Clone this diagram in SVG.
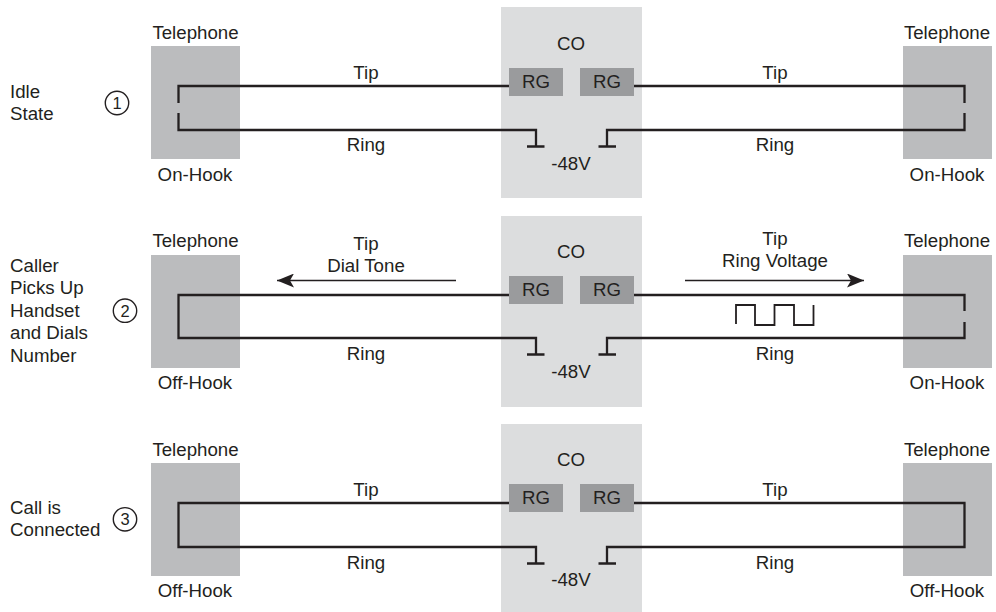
<svg xmlns="http://www.w3.org/2000/svg" width="996" height="612" viewBox="0 0 996 612">
<style>
text{font-family:"Liberation Sans",Arial,sans-serif;font-size:18.7px;fill:#231f20}
.m{text-anchor:middle}
.d{font-size:16.5px}
.tel{fill:#bbbcbe}
.co{fill:#dcddde}
.rg{fill:#9a9b9d}
.w{fill:none;stroke:#231f20;stroke-width:2.3}
.t{fill:none;stroke:#231f20;stroke-width:1.4}
</style>
<defs>
<marker id="arr" markerUnits="userSpaceOnUse" markerWidth="18" markerHeight="14" refX="17" refY="7" orient="auto-start-reverse"><path d="M0 0L17 7L0 14L4 7Z" fill="#231f20"/></marker>
</defs>
<rect width="996" height="612" fill="#fff"/>
<g id="row1">
<g id="co1"><rect class="co" x="501" y="7" width="141" height="191"/><text class="m" x="571" y="50">CO</text><text class="m" x="571" y="170">-48V</text></g>
<g id="tel1l"><rect class="tel" x="151" y="46" width="89" height="113"/><text class="m" x="195.500" y="38.500">Telephone</text><text class="m" x="195" y="181">On-Hook</text></g>
<g id="tel1r"><rect class="tel" x="903" y="46" width="89" height="113"/><text class="m" x="947" y="38.500">Telephone</text><text class="m" x="947" y="181">On-Hook</text></g>
<g id="rg1a"><rect class="rg" x="509" y="68" width="54" height="28"/><text class="m" x="536" y="88">RG</text></g>
<g id="rg1b"><rect class="rg" x="580" y="68" width="54" height="28"/><text class="m" x="607" y="88">RG</text></g>
<g id="state1"><text x="10" y="98">Idle</text><text x="10" y="120">State</text><circle class="t" cx="117" cy="103" r="11.700"/><text class="m d" x="117" y="108.800">1</text></g>
<text class="m" x="366" y="79">Tip</text><text class="m" x="366" y="151">Ring</text>
<text class="m" x="775" y="79">Tip</text><text class="m" x="775" y="151">Ring</text>
</g>
<g id="row2">
<g id="co2"><rect class="co" x="501" y="216" width="141" height="191"/><text class="m" x="571" y="258">CO</text><text class="m" x="571" y="378">-48V</text></g>
<g id="tel2l"><rect class="tel" x="151" y="255" width="89" height="113"/><text class="m" x="195.500" y="246.700">Telephone</text><text class="m" x="195" y="389">Off-Hook</text></g>
<g id="tel2r"><rect class="tel" x="903" y="255" width="89" height="113"/><text class="m" x="947" y="246.700">Telephone</text><text class="m" x="947" y="389">On-Hook</text></g>
<g id="rg2a"><rect class="rg" x="509" y="276" width="54" height="28"/><text class="m" x="536" y="296">RG</text></g>
<g id="rg2b"><rect class="rg" x="580" y="276" width="54" height="28"/><text class="m" x="607" y="296">RG</text></g>
<g id="state2"><text x="10" y="271.700">Caller</text><text x="10" y="294">Picks Up</text><text x="10" y="316.700">Handset</text><text x="10" y="339">and Dials</text><text x="10" y="362">Number</text><circle class="t" cx="125" cy="310.700" r="11.700"/><text class="m d" x="125" y="316.500">2</text></g>
<text class="m" x="366" y="250">Tip</text><text class="m" x="366" y="271.700">Dial Tone</text><text class="m" x="366" y="360">Ring</text>
<text class="m" x="775" y="245">Tip</text><text class="m" x="775" y="266.700">Ring Voltage</text><text class="m" x="775" y="360">Ring</text>
</g>
<g id="row3">
<g id="co3"><rect class="co" x="501" y="424" width="141" height="188"/><text class="m" x="571" y="466">CO</text><text class="m" x="571" y="586">-48V</text></g>
<g id="tel3l"><rect class="tel" x="151" y="463" width="89" height="113"/><text class="m" x="195.500" y="455.700">Telephone</text><text class="m" x="195" y="597">Off-Hook</text></g>
<g id="tel3r"><rect class="tel" x="903" y="463" width="89" height="113"/><text class="m" x="947" y="455.700">Telephone</text><text class="m" x="947" y="597">Off-Hook</text></g>
<g id="rg3a"><rect class="rg" x="509" y="484" width="54" height="28"/><text class="m" x="536" y="504">RG</text></g>
<g id="rg3b"><rect class="rg" x="580" y="484" width="54" height="28"/><text class="m" x="607" y="504">RG</text></g>
<g id="state3"><text x="10" y="514">Call is</text><text x="10" y="536">Connected</text><circle class="t" cx="125" cy="519.300" r="11.700"/><text class="m d" x="125" y="525">3</text></g>
<text class="m" x="366" y="496">Tip</text><text class="m" x="366" y="569">Ring</text>
<text class="m" x="775" y="496">Tip</text><text class="m" x="775" y="569">Ring</text>
</g>
<g id="connectors">
<path class="w" d="M178.500 103V86H509M178.500 113V130H536V146.500M527 146.500H544.500"/>
<path class="w" d="M964.500 103V86H634M964.500 113V130H607V146.500M598.500 146.500H616"/>
<path class="w" d="M178.500 295V338H536V354.500M527 354.500H544.500M177.400 295H509"/>
<path class="w" d="M964.500 311V295H634M964.500 322V338H607V354.500M598.500 354.500H616"/>
<path class="w" d="M178.500 503V547H536V563.500M527 563.500H544.500M177.400 503H509"/>
<path class="w" d="M964.500 503V547H607V563.500M598.500 563.500H616M965.600 503H634"/>
<path class="t" style="stroke-width:1.500" d="M456 280.500H277" marker-end="url(#arr)"/>
<path class="t" style="stroke-width:1.500" d="M685 280.500H864" marker-end="url(#arr)"/>
<path class="t" style="stroke-width:1.800" d="M736 324V305H755V325H774.500V305H794V325H813.500V305"/>
</g>
</svg>
